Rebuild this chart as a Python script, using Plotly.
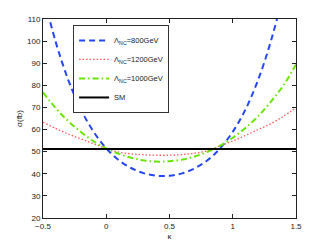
import plotly.graph_objects as go

kappa = [-0.5, -0.4, -0.3, -0.2, -0.1, 0.0, 0.1, 0.2, 0.3, 0.4, 0.5,
         0.6, 0.7, 0.8, 0.9, 1.0, 1.1, 1.2, 1.3, 1.4, 1.5]
sigma_800 = [121.7, 99.7, 82.4, 69.0, 59.0, 51.5, 46.1, 42.5, 40.2, 39.1, 39.1,
             40.2, 42.5, 46.1, 51.5, 59.0, 69.0, 82.4, 99.7, 121.7, 149.4]
sigma_1200 = [63.3, 60.5, 58.0, 55.8, 53.6, 51.4, 49.8, 49.0, 48.6, 48.4, 48.4,
              48.7, 49.3, 50.4, 52.6, 54.8, 57.3, 60.0, 62.6, 66.0, 69.8]
sigma_1000 = [76.8, 69.7, 63.8, 58.9, 54.7, 51.5, 49.0, 47.2, 46.0, 45.5, 45.7,
              46.4, 47.8, 49.9, 52.7, 56.3, 60.7, 66.0, 72.5, 79.9, 89.5]
sigma_sm = [51.2] * len(kappa)

names = ["Λ<sub>NC</sub>=800GeV", "Λ<sub>NC</sub>=1200GeV", "Λ<sub>NC</sub>=1000GeV", "SM"]
x_ticks = [-0.5, 0, 0.5, 1, 1.5]
x_tick_labels = ["−0.5", "0", "0.5", "1", "1.5"]
y_ticks = [20, 30, 40, 50, 60, 70, 80, 90, 100, 110]

fig = go.Figure()
fig.add_trace(go.Scatter(x=kappa, y=sigma_800, mode="lines", name=names[0],
                         line=dict(color="#2446f5", width=2, dash="6px,4px", shape="spline")))
fig.add_trace(go.Scatter(x=kappa, y=sigma_1200, mode="lines", name=names[1],
                         line=dict(color="#ff5a5a", width=1.3, dash="1.5px,2px", shape="spline")))
fig.add_trace(go.Scatter(x=kappa, y=sigma_1000, mode="lines", name=names[2],
                         line=dict(color="#66e600", width=2, dash="6px,3px,1.5px,3px", shape="spline")))
fig.add_trace(go.Scatter(x=kappa, y=sigma_sm, mode="lines", name=names[3],
                         line=dict(color="black", width=2)))

axis_common = dict(showgrid=False, zeroline=False, showline=True, linecolor="#222",
                   linewidth=1, mirror="ticks", ticks="inside", ticklen=4, automargin=False,
                   tickcolor="#222", tickfont=dict(family="Liberation Sans, Arial", size=8, color="#222"))

fig.update_layout(
    width=319, height=238,
    margin=dict(l=35, r=31, t=11, b=28),
    paper_bgcolor="white", plot_bgcolor="white",
    font=dict(family="Liberation Sans, Arial", size=8, color="#222"),
    xaxis=dict(range=[-0.5, 1.5], tickvals=x_ticks, ticktext=x_tick_labels,
               title=dict(text="κ", standoff=3, font=dict(size=8)), **axis_common),
    yaxis=dict(range=[20, 110], tickvals=y_ticks,
               title=dict(text="σ(fb)", standoff=3, font=dict(size=8)), **axis_common),
    legend=dict(x=0.119, y=0.97, xanchor="left", yanchor="top",
                bgcolor="white", bordercolor="#333", borderwidth=1,
                font=dict(size=7.5), tracegroupgap=0, itemwidth=30),
    showlegend=True,
)

fig.write_html("out.html")
